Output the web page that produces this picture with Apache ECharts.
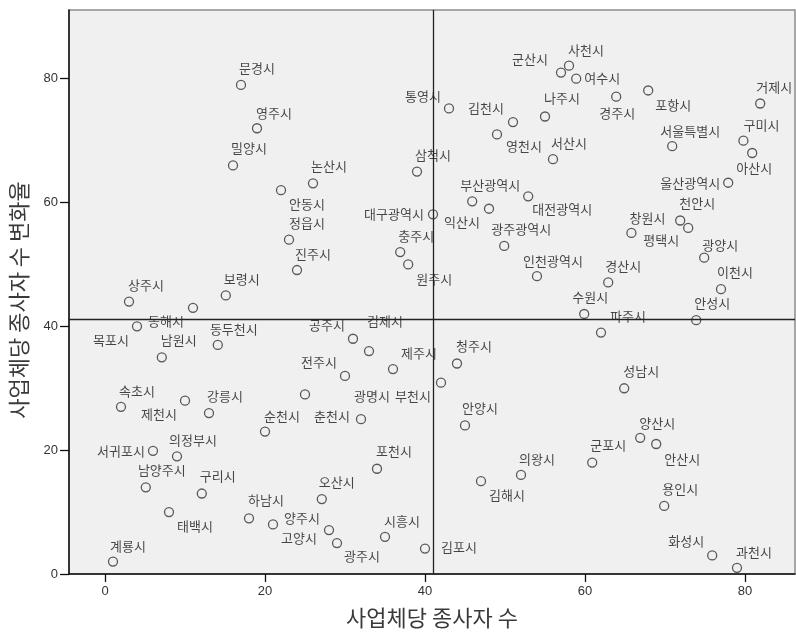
<!DOCTYPE html>
<html>
<head>
<meta charset="utf-8">
<script src="https://cdn.jsdelivr.net/npm/echarts@6/dist/echarts.min.js"></script>
<style>
  html, body { margin: 0; padding: 0; background: #ffffff; }
  #chart { width: 796px; height: 634px; }
</style>
</head>
<body>
<div id="chart"></div>
<script>
// Cities: employees per establishment (x) vs. rate of change (y)
const cities = [
  '문경시','영주시','밀양시','논산시','안동시','정읍시','진주시','보령시','상주시','동해시',
  '목포시','남원시','동두천시','공주시','김제시','전주시','제주시','청주시','부천시','광명시',
  '춘천시','순천시','속초시','제천시','강릉시','서귀포시','의정부시','남양주시','구리시','태백시',
  '하남시','양주시','고양시','광주시','오산시','포천시','시흥시','계룡시','김포시','안양시',
  '김해시','의왕시','군포시','성남시','양산시','안산시','용인시','화성시','과천시','수원시',
  '파주시','안성시','이천시','경산시','인천광역시','광주광역시','대전광역시','부산광역시','익산시','대구광역시',
  '충주시','원주시','삼척시','통영시','김천시','영천시','나주시','서산시','군산시','사천시',
  '여수시','경주시','포항시','거제시','구미시','아산시','울산광역시','서울특별시','창원시','평택시',
  '천안시','광양시'
];
const employeesPerFirm = [
  17.0, 19.0, 16.0, 26.0, 22.0, 23.0, 24.0, 15.1, 3.0, 11.0,
  4.0, 7.1, 14.1, 31.0, 33.0, 30.0, 36.0, 44.0, 42.0, 32.0,
  25.0, 20.0, 2.0, 10.0, 13.0, 6.0, 9.0, 5.1, 12.1, 8.0,
  18.0, 21.0, 28.0, 29.0, 27.1, 34.0, 35.0, 1.0, 40.0, 45.0,
  47.0, 52.0, 60.9, 64.9, 66.9, 68.9, 69.9, 75.9, 79.0, 59.9,
  62.0, 73.9, 77.0, 62.9, 54.0, 49.9, 52.9, 45.9, 48.0, 41.0,
  36.9, 37.9, 39.0, 43.0, 51.0, 49.0, 55.0, 56.0, 57.0, 58.0,
  58.9, 63.9, 67.9, 81.9, 79.8, 80.9, 77.9, 70.9, 65.8, 72.9,
  71.9, 74.9
];
const changeRate = [
  79.0, 72.0, 66.0, 63.1, 62.0, 54.0, 49.1, 45.0, 44.0, 43.0,
  40.0, 35.0, 37.0, 38.0, 36.0, 32.0, 33.1, 34.0, 30.9, 25.0,
  29.0, 23.0, 27.0, 28.0, 26.0, 19.9, 19.0, 14.0, 13.0, 10.0,
  9.0, 8.0, 7.1, 5.0, 12.1, 17.0, 6.0, 2.0, 4.1, 24.0,
  15.0, 16.0, 18.0, 30.0, 22.0, 21.0, 11.0, 3.0, 1.0, 42.0,
  39.0, 41.0, 46.0, 47.1, 48.1, 53.0, 61.0, 60.2, 59.0, 58.1,
  52.0, 50.0, 65.0, 75.2, 73.0, 71.0, 73.9, 67.0, 81.0, 82.1,
  80.0, 77.1, 78.1, 76.0, 70.0, 68.0, 63.2, 69.1, 55.1, 55.9,
  57.1, 51.1
];
// Reference lines (averages)
const meanEmployees = 41.0;
const meanChange = 41.1;
const xTicks = [0, 20, 40, 60, 80];
const yTicks = [0, 20, 40, 60, 80];

// Where each city's name sits relative to its marker (pixels)
const labelOffsets = {
  '문경시':[16,-17],'영주시':[17,-15],'밀양시':[16,-17],'논산시':[16,-17],'안동시':[26,14],
  '정읍시':[18,-17],'진주시':[16,-16],'보령시':[16,-16],'상주시':[17,-17],'동해시':[-27,13],
  '목포시':[-26,14],'남원시':[17,-17],'동두천시':[16,-16],'공주시':[-26,-14],'김제시':[16,-30],
  '전주시':[-26,-14],'제주시':[26,-16],'청주시':[17,-17],'부천시':[-28,13],'광명시':[11,-23],
  '춘천시':[27,22],'순천시':[17,-16],'속초시':[16,-16],'제천시':[-26,13],'강릉시':[16,-17],
  '서귀포시':[-32,0],'의정부시':[16,-16],'남양주시':[16,-17],'구리시':[16,-17],'태백시':[26,14],
  '하남시':[17,-18],'양주시':[29,-6],'고양시':[-30,8],'광주시':[25,13],'오산시':[15,-17],
  '포천시':[17,-18],'시흥시':[17,-16],'계룡시':[15,-16],'김포시':[34,-2],'안양시':[15,-17],
  '김해시':[26,14],'의왕시':[16,-16],'군포시':[16,-17],'성남시':[17,-17],'양산시':[17,-15],
  '안산시':[26,15],'용인시':[16,-17],'화성시':[-26,-14],'과천시':[17,-16],'수원시':[6,-17],
  '파주시':[27,-16],'안성시':[16,-17],'이천시':[14,-17],'경산시':[15,-16],'인천광역시':[16,-15],
  '광주광역시':[17,-17],'대전광역시':[34,13],'부산광역시':[18,-16],'익산시':[-27,13],'대구광역시':[-39,0],
  '충주시':[16,-16],'원주시':[26,15],'삼척시':[16,-17],'통영시':[-26,-12],'김천시':[-27,-14],
  '영천시':[27,12],'나주시':[17,-18],'서산시':[16,-16],'군산시':[-31,-13],'사천시':[17,-16],
  '여수시':[26,-1],'경주시':[1,16],'포항시':[25,15],'거제시':[14,-16],'구미시':[18,-16],
  '아산시':[2,15],'울산광역시':[-38,0],'서울특별시':[18,-15],'창원시':[16,-15],'평택시':[-27,12],
  '천안시':[17,-17],'광양시':[16,-13]
};

const points = cities.map((name, i) => ({
  name: name,
  value: [employeesPerFirm[i], changeRate[i]]
}));

const chart = echarts.init(document.getElementById('chart'), null, { renderer: 'canvas' });
const hangul = '"Noto Sans CJK KR", "Noto Sans", sans-serif';

chart.setOption({
  animation: false,
  backgroundColor: '#ffffff',
  grid: {
    left: 69, top: 10, width: 726, height: 565,
    show: true, backgroundColor: '#f0f0f0', borderColor: '#8c8c8c', borderWidth: 1.5
  },
  xAxis: {
    type: 'value', min: -4.5, max: 86.25,
    name: '사업체당 종사자 수', nameLocation: 'middle', nameGap: 33,
    nameTextStyle: { fontFamily: hangul, fontSize: 22, color: '#3a3a3a' },
    axisLine: { show: true, onZero: false, lineStyle: { color: '#111', width: 1.5 } },
    axisTick: { show: true, customValues: xTicks, length: 8, lineStyle: { color: '#111', width: 1.3 } },
    axisLabel: { customValues: xTicks, margin: 11, fontFamily: 'Liberation Sans, Arial, sans-serif', fontSize: 13, color: '#333' },
    splitLine: { show: false }
  },
  yAxis: {
    type: 'value', min: 0, max: 91.1,
    name: '사업체당 종사자 수 변화율', nameLocation: 'middle', nameGap: 39, nameRotate: 90,
    nameTextStyle: { fontFamily: hangul, fontSize: 22, color: '#3a3a3a', padding: [0, 16, 0, 0] },
    axisLine: { show: true, onZero: false, lineStyle: { color: '#111', width: 1.5 } },
    axisTick: { show: true, customValues: yTicks, length: 9, lineStyle: { color: '#111', width: 1.3 } },
    axisLabel: { customValues: yTicks, margin: 11, fontFamily: 'Liberation Sans, Arial, sans-serif', fontSize: 13, color: '#333' },
    splitLine: { show: false }
  },
  series: [{
    type: 'scatter',
    symbol: 'circle',
    symbolSize: 9,
    itemStyle: { color: 'rgba(0,0,0,0)', borderColor: '#333', borderWidth: 1.3 },
    label: {
      show: true,
      position: 'inside',
      align: 'center',
      verticalAlign: 'middle',
      formatter: '{b}',
      fontFamily: hangul,
      fontSize: 13,
      color: '#1a1a1a'
    },
    // shift each name next to its marker
    labelLayout: function (params) {
      const o = labelOffsets[cities[params.dataIndex]] || [0, -14];
      return { dx: o[0], dy: o[1], hideOverlap: false };
    },
    emphasis: { disabled: true },
    data: points,
    markLine: {
      silent: true,
      symbol: 'none',
      label: { show: false },
      lineStyle: { color: '#222', width: 1.3, type: 'solid' },
      data: [{ xAxis: meanEmployees }, { yAxis: meanChange }]
    }
  }]
});
</script>
</body>
</html>
